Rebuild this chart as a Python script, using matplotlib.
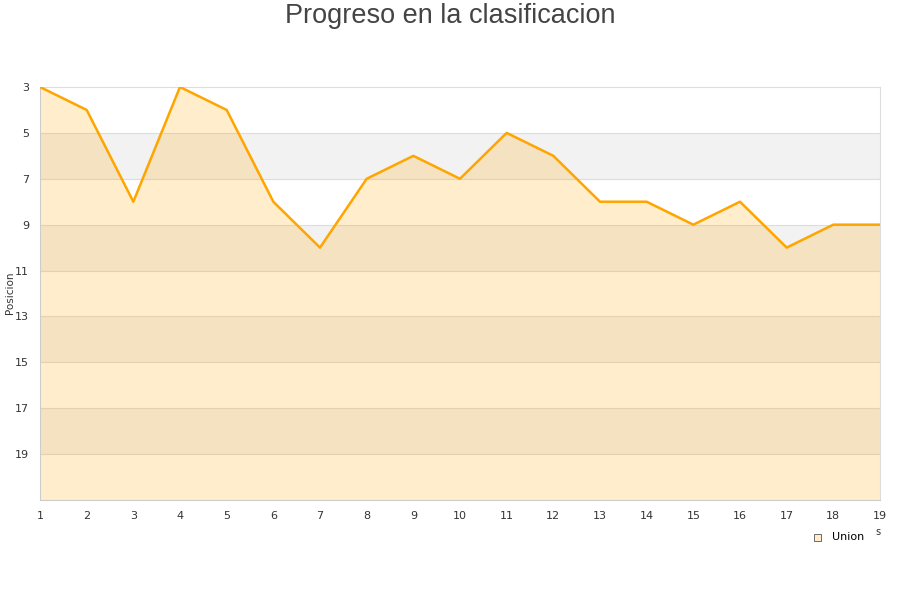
import matplotlib
matplotlib.use("Agg")
from matplotlib import pyplot as plt
from matplotlib.patches import Rectangle

# data
jornadas = list(range(1, 20))
posicion = [3, 4, 8, 3, 4, 8, 10, 7, 6, 7, 5, 6, 8, 8, 9, 8, 10, 9, 9]
yticks = [3, 5, 7, 9, 11, 13, 15, 17, 19]
equipo = "Union"
titulo = "Progreso en la clasificacion"

fig = plt.figure(figsize=(9, 6), dpi=100)
ax = fig.add_axes([40/900, 100/600, 840/900, 413/600])

# alternating bands
for y0 in [5, 9, 13, 17]:
    ax.axhspan(y0, y0 + 2, color="#f2f2f2", zorder=0, lw=0)
for y in yticks[1:] + [21]:
    ax.axhline(y, color="#dddddd", lw=0.8, zorder=1)

ax.fill_between(jornadas, posicion, 21, color="#ffa500", alpha=0.2, lw=0, zorder=2)
ax.plot(jornadas, posicion, color="#ffa500", lw=1.8, zorder=3)

ax.set_xlim(1, 19)
ax.set_ylim(21, 3)
ax.set_xticks(jornadas)
ax.set_yticks(yticks)
ax.tick_params(length=0, labelsize=8, colors="#333333", pad=8)
for s in ax.spines.values():
    s.set_color("#dddddd")
    s.set_linewidth(0.8)
ax.spines["left"].set_color("#cccccc")
ax.spines["bottom"].set_color("#cccccc")

fig.text(10/900, 1 - 293/600, "Posicion", rotation=90, fontsize=7.5, color="#333333",
         ha="center", va="center")
fig.text(0.5, 1 - 16/600, titulo, fontsize=19.5, color="#444444", ha="center", va="center",
         family="Liberation Sans")

# legend
fig.patches.append(Rectangle((814/900, 1 - 541/600), 7/900, 7/600, transform=fig.transFigure,
                             facecolor="#ffedcc", edgecolor="#555555", lw=0.6))
fig.text(832/900, 1 - 537/600, equipo, fontsize=8, color="#000000", va="center")
fig.text(875/900, 1 - 532/600, "s", fontsize=7, color="#333333", va="center")

fig.savefig("out.png", dpi=100)
